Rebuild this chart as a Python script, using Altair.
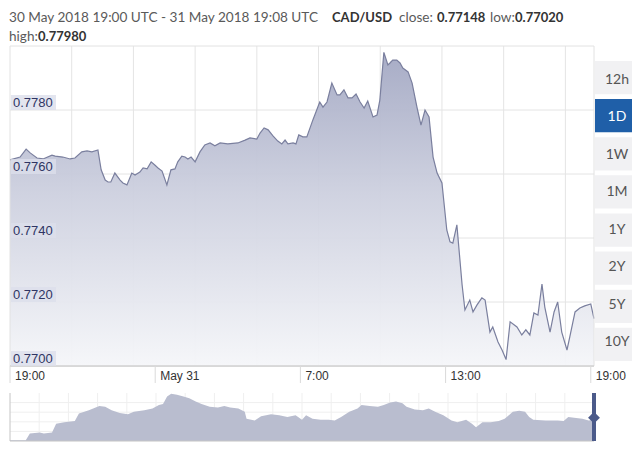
import altair as alt
import pandas as pd

# ---- main series: minutes after 30 May 2018 19:00 UTC, CAD/USD rate ----
minutes = [0, 25, 40, 50, 67, 82, 104, 112, 131, 149, 161, 178, 191, 203, 218, 226, 236, 243, 250,
           260, 273, 280, 290, 302, 310, 322, 330, 340, 350, 359, 367, 377, 389, 399, 409, 416, 426,
           434, 441, 449, 459, 471, 483, 496, 508, 521, 540, 565, 583, 595, 612, 620, 630, 640, 652,
           664, 674, 682, 689, 702, 709, 716, 726, 736, 751, 768, 776, 786, 798, 811, 818, 828, 838,
           848, 858, 868, 878, 887, 900, 910, 917, 927, 937, 942, 949, 959, 967, 974, 987, 997, 1009,
           1019, 1029, 1039, 1049, 1059, 1071, 1083, 1091, 1098, 1108, 1121, 1128, 1140, 1148, 1158,
           1170, 1178, 1190, 1197, 1210, 1220, 1230, 1240, 1257, 1269, 1279, 1289, 1299, 1309, 1319,
           1326, 1339, 1349, 1358, 1368, 1381, 1388, 1401, 1413, 1425, 1440, 1448]
rate = [0.77644, 0.77653, 0.77678, 0.77666, 0.77650, 0.77647, 0.77659, 0.77656, 0.77653, 0.77647,
        0.77650, 0.77669, 0.77672, 0.77669, 0.77675, 0.77613, 0.77581, 0.77575, 0.77575, 0.77603,
        0.77581, 0.77572, 0.77566, 0.77603, 0.77597, 0.77606, 0.77619, 0.77616, 0.77638, 0.77628,
        0.77619, 0.77609, 0.77566, 0.77613, 0.77616, 0.77638, 0.77656, 0.77653, 0.77647, 0.77653,
        0.77638, 0.77669, 0.77691, 0.77697, 0.77688, 0.77697, 0.77694, 0.77697, 0.77706, 0.77713,
        0.77709, 0.77728, 0.77744, 0.77738, 0.77719, 0.77703, 0.77694, 0.77706, 0.77694, 0.77697,
        0.77694, 0.77722, 0.77716, 0.77716, 0.77769, 0.77825, 0.77809, 0.77825, 0.77884, 0.77847,
        0.77847, 0.77863, 0.77838, 0.77838, 0.77850, 0.77825, 0.77806, 0.77828, 0.77778, 0.77784,
        0.77831, 0.77980, 0.77941, 0.77947, 0.77956, 0.77956, 0.77947, 0.77931, 0.77919, 0.77884,
        0.77809, 0.77753, 0.77800, 0.77778, 0.77653, 0.77603, 0.77572, 0.77425, 0.77388, 0.77384,
        0.77441, 0.77253, 0.77175, 0.77206, 0.77169, 0.77191, 0.77213, 0.77206, 0.77106, 0.77122,
        0.77075, 0.77050, 0.77020, 0.77138, 0.77122, 0.77097, 0.77113, 0.77097, 0.77166, 0.77159,
        0.77256, 0.77184, 0.77106, 0.77169, 0.77200, 0.77106, 0.77050, 0.77091, 0.77169, 0.77181,
        0.77188, 0.77194, 0.77148]

# ---- navigator (long history, relative level) ----
nav_pos = [0, 2.7, 3.4, 5.1, 5.8, 7.2, 7.9, 9.3, 11.1, 11.8, 13.5, 15.3, 16.3, 17.4, 18.8, 20.2,
           21.2, 23.0, 24.4, 25.5, 26.2, 26.9, 27.6, 28.6, 29.7, 30.7, 31.8, 32.8, 34.2, 35.6, 36.7,
           37.7, 39.1, 40.2, 40.5, 41.9, 43.0, 44.7, 46.1, 47.5, 48.9, 50.0, 50.7, 51.8, 53.2, 54.6,
           55.6, 56.7, 58.1, 59.5, 60.2, 61.6, 63.0, 64.0, 65.1, 66.1, 67.2, 67.9, 69.3, 70.7, 71.7,
           72.8, 74.2, 75.6, 76.6, 78.1, 79.1, 79.8, 80.9, 82.3, 83.7, 84.7, 86.1, 87.2, 88.2, 88.9,
           89.6, 91.7, 93.8, 94.8, 95.6, 96.6, 98.0, 99.1, 100]
nav_level = [2, 2, 22, 25, 22, 25, 50, 55, 58, 80, 90, 102, 100, 90, 82, 78, 85, 90, 95, 105, 108,
             130, 138, 135, 130, 125, 115, 108, 100, 98, 102, 98, 95, 85, 65, 60, 72, 78, 75, 70, 75,
             62, 75, 65, 62, 62, 60, 70, 85, 95, 105, 102, 100, 105, 112, 115, 110, 100, 92, 90, 95,
             85, 75, 60, 55, 62, 50, 40, 55, 55, 58, 65, 85, 88, 85, 70, 62, 60, 60, 58, 70, 68, 65,
             60, 62]

y_ticks = [0.7700, 0.7720, 0.7740, 0.7760, 0.7780]
y_tick_labels = ["0.7700", "0.7720", "0.7740", "0.7760", "0.7780"]
x_tick_minutes = [0, 360, 720, 1080, 1440]
x_tick_labels = ["19:00", "May 31", "7:00", "13:00", "19:00"]
grid_minutes = [153, 306, 459, 612, 765, 918, 1071, 1224, 1377]
nav_grid_pos = [5, 10, 15, 20, 25, 30, 35, 40, 45, 50, 55, 60, 65, 70, 75, 80, 85, 90, 95]
nav_grid_level = [28, 56, 84, 112]
buttons = ["12h", "1D", "1W", "1M", "1Y", "2Y", "5Y", "10Y"]
selected = "1D"

# ---- scales (explicit pixel ranges on a single canvas) ----
XS = alt.Scale(domain=[0, 1448], range=[2, 586], nice=False, zero=False)
YS = alt.Scale(domain=[0.7700, 0.7800], range=[358, 38], nice=False, zero=False)
NXS = alt.Scale(domain=[0, 100], range=[2, 586], nice=False, zero=False)
NYS = alt.Scale(domain=[0, 140], range=[433, 385], nice=False, zero=False)
BS = alt.Scale(domain=buttons, range=[53, 353], paddingInner=0.13, paddingOuter=0)

df = pd.DataFrame({"m": minutes, "v": rate})
nav_df = pd.DataFrame({"p": nav_pos, "lvl": nav_level})
yt_df = pd.DataFrame({"v": y_ticks, "t": y_tick_labels})
xt_df = pd.DataFrame({"m": x_tick_minutes, "t": x_tick_labels})
grid_df = pd.DataFrame({"m": grid_minutes})
ngx_df = pd.DataFrame({"p": nav_grid_pos})
ngy_df = pd.DataFrame({"lvl": nav_grid_level})
btn_df = pd.DataFrame({"label": buttons})
one = pd.DataFrame({"k": [0]})

GRID = "#e4e4e4"
AXFONT = "Liberation Sans"
HFONT = "Lato"

layers = []

# vertical grid (main)
layers.append(alt.Chart(grid_df).mark_rule(color=GRID, strokeWidth=1).encode(
    x=alt.X("m:Q", scale=XS, axis=None),
    y=alt.YDatum(0.78, scale=YS, axis=None), y2=alt.Y2Datum(0.77)))
# horizontal grid (main)
layers.append(alt.Chart(yt_df).mark_rule(color=GRID, strokeWidth=1).encode(
    y=alt.Y("v:Q", scale=YS, axis=None),
    x=alt.XDatum(0, scale=XS, axis=None), x2=alt.X2Datum(1448)))

# area + line
grad = alt.Gradient(gradient="linear",
                    stops=[alt.GradientStop(color="#a3a8c3", offset=0),
                           alt.GradientStop(color="#cdd0df", offset=0.45),
                           alt.GradientStop(color="#f5f6f9", offset=1)],
                    x1=1, x2=1, y1=0, y2=1)
layers.append(alt.Chart(df).mark_area(color=grad, opacity=0.95).encode(
    x=alt.X("m:Q", scale=XS, axis=None),
    y=alt.Y("v:Q", scale=YS, axis=None), y2=alt.Y2Datum(0.77)))
layers.append(alt.Chart(df).mark_line(color="#7a7f9e", strokeWidth=1.2).encode(
    x=alt.X("m:Q", scale=XS, axis=None),
    y=alt.Y("v:Q", scale=YS, axis=None)))

# frame of the main plot
layers.append(alt.Chart(one).mark_rect(fillOpacity=0, stroke="#e2e2e2", strokeWidth=1).encode(
    x=alt.XDatum(0, scale=XS, axis=None), x2=alt.X2Datum(1448),
    y=alt.YDatum(0.78, scale=YS, axis=None), y2=alt.Y2Datum(0.77)))
# bottom axis line
layers.append(alt.Chart(one).mark_rule(color="#c8c8c8", strokeWidth=1).encode(
    x=alt.XDatum(0, scale=XS, axis=None), x2=alt.X2Datum(1448),
    y=alt.YDatum(0.77, scale=YS, axis=None)))

# y labels inside the plot, with boxes
layers.append(alt.Chart(yt_df).mark_rect(color="#dcdfeb", opacity=0.8, y2Offset=-15).encode(
    x=alt.value(3), x2=alt.value(48),
    y=alt.Y("v:Q", scale=YS, axis=None), y2="v:Q"))
layers.append(alt.Chart(yt_df).mark_text(align="left", baseline="alphabetic", dy=-3,
                                         font=AXFONT, fontSize=13, color="#2f3563").encode(
    x=alt.value(5), y=alt.Y("v:Q", scale=YS, axis=None), text="t:N"))

# x tick separators and labels
layers.append(alt.Chart(xt_df).mark_rule(color="#dadada", strokeWidth=1).encode(
    x=alt.X("m:Q", scale=XS, axis=None), y=alt.value(358), y2=alt.value(375)))
layers.append(alt.Chart(xt_df).mark_text(align="left", baseline="alphabetic", dx=5,
                                         font=AXFONT, fontSize=12, color="#333333").encode(
    x=alt.X("m:Q", scale=XS, axis=None), y=alt.value(372), text="t:N"))

# navigator
layers.append(alt.Chart(ngx_df).mark_rule(color="#efefef").encode(
    x=alt.X("p:Q", scale=NXS, axis=None),
    y=alt.YDatum(140, scale=NYS, axis=None), y2=alt.Y2Datum(0)))
layers.append(alt.Chart(ngy_df).mark_rule(color="#efefef").encode(
    y=alt.Y("lvl:Q", scale=NYS, axis=None),
    x=alt.XDatum(0, scale=NXS, axis=None), x2=alt.X2Datum(100)))
layers.append(alt.Chart(nav_df).mark_area(color="#b9bdcf", interpolate="linear").encode(
    x=alt.X("p:Q", scale=NXS, axis=None),
    y=alt.Y("lvl:Q", scale=NYS, axis=None), y2=alt.Y2Datum(0)))
layers.append(alt.Chart(one).mark_rule(color="#c4c4c4").encode(
    x=alt.XDatum(0, scale=NXS, axis=None), x2=alt.X2Datum(100),
    y=alt.YDatum(0, scale=NYS, axis=None)))
layers.append(alt.Chart(one).mark_rule(color="#c4c4c4").encode(
    x=alt.XDatum(0, scale=NXS, axis=None),
    y=alt.YDatum(140, scale=NYS, axis=None), y2=alt.Y2Datum(0)))
layers.append(alt.Chart(one).mark_rule(color="#4b5a8a", strokeWidth=4).encode(
    x=alt.XDatum(100, scale=NXS, axis=None),
    y=alt.YDatum(140, scale=NYS, axis=None), y2=alt.Y2Datum(0)))
layers.append(alt.Chart(one).mark_point(shape="diamond", filled=True, size=140, opacity=1,
                                        color="#4b5a8a").encode(
    x=alt.XDatum(100, scale=NXS, axis=None),
    y=alt.YDatum(68, scale=NYS, axis=None)))

# range buttons
is_sel = alt.datum.label == selected
layers.append(alt.Chart(btn_df).mark_rect().encode(
    x=alt.value(587), x2=alt.value(624),
    y=alt.Y("label:N", scale=BS, axis=None),
    color=alt.condition(is_sel, alt.value("#1f5fa8"), alt.value("#f1f1f3"))))
layers.append(alt.Chart(btn_df).mark_text(align="center", baseline="middle",
                                          font=HFONT, fontSize=14).encode(
    x=alt.value(609),
    y=alt.Y("label:N", scale=BS, axis=None, bandPosition=0.5),
    text="label:N",
    color=alt.condition(is_sel, alt.value("#ffffff"), alt.value("#555555"))))

# header texts
def htext(txt, x, y, bold=False):
    return alt.Chart(one).mark_text(align="left", baseline="alphabetic", font=HFONT,
                                    fontSize=13 if bold else 13.6,
                                    fontWeight="bold" if bold else "normal",
                                    color="#333333" if bold else "#5a5a5a", text=txt).encode(
        x=alt.value(x), y=alt.value(y))

layers.append(htext("30 May 2018 19:00 UTC - 31 May 2018 19:08 UTC", 1, 14))
layers.append(htext("CAD/USD", 324, 14, True))
layers.append(htext("close:", 391, 14))
layers.append(htext("0.77148", 429, 14, True))
layers.append(htext("low:", 482, 14))
layers.append(htext("0.77020", 507, 14, True))
layers.append(htext("high:", 1, 33))
layers.append(htext("0.77980", 30, 33, True))

chart = alt.layer(*layers).resolve_scale(x="independent", y="independent").properties(
    width=624, height=440, padding=0,
    autosize=alt.AutoSizeParams(type="none"),
    background="white",
).configure_view(strokeWidth=0)

chart.save("out.html", embed_options={"renderer": "svg", "actions": False})
